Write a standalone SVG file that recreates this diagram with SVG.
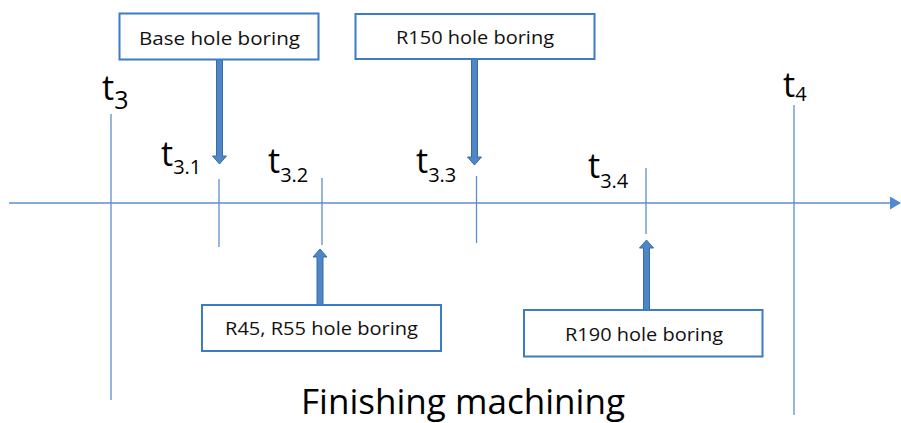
<svg xmlns="http://www.w3.org/2000/svg" width="901" height="423" viewBox="0 0 901 423">
<style>
.box{fill:#fff;stroke:#3b7cc4;stroke-width:2}
.lbl{font-family:"Open Sans","Liberation Sans",sans-serif;font-size:18px;fill:#111}
.tm{font-family:"Open Sans","Liberation Sans",sans-serif;font-size:34px;fill:#000}
.sb{font-size:20px}
.ln{stroke:#5b8fcc;stroke-width:1.3;fill:none}
.arr{fill:#4f86c6;stroke:#3a6aa6;stroke-width:1}
</style>
<defs>
<marker id="ah" markerWidth="11" markerHeight="13" refX="10" refY="6.5" orient="auto" markerUnits="userSpaceOnUse">
<path d="M0,0 L11,6.5 L0,13 Z" fill="#4f8ad0"/>
</marker>
</defs>
<g id="connectors">
<line class="ln" x1="9" y1="203" x2="900" y2="203" stroke-width="1.6" marker-end="url(#ah)"/>
<line class="ln" x1="111" y1="114" x2="111" y2="400"/>
<line class="ln" x1="794" y1="105" x2="794" y2="415"/>
<line class="ln" x1="219" y1="179" x2="219" y2="247"/>
<line class="ln" x1="322" y1="178" x2="322" y2="245"/>
<line class="ln" x1="476.5" y1="176" x2="476.5" y2="243"/>
<line class="ln" x1="646" y1="168" x2="646" y2="234"/>
<path class="arr" d="M216.5,59 L222.5,59 L222.5,156 L226.5,156 L219.5,164 L212.5,156 L216.5,156 Z"/>
<path class="arr" d="M471.5,59 L477.5,59 L477.5,157 L481.5,157 L474.5,165 L467.5,157 L471.5,157 Z"/>
<path class="arr" d="M317,305 L323,305 L323,257 L327,257 L320,249 L313,257 L317,257 Z"/>
<path class="arr" d="M643.5,310 L649.5,310 L649.5,248 L653.5,248 L646.5,240 L639.5,248 L643.5,248 Z"/>
</g>
<g id="node-base">
<rect class="box" x="119.5" y="13.5" width="199" height="46"/>
<text class="lbl" x="219.5" y="45" text-anchor="middle" textLength="161" lengthAdjust="spacingAndGlyphs">Base hole boring</text>
</g>
<g id="node-r150">
<rect class="box" x="355.5" y="14" width="239" height="45"/>
<text class="lbl" x="475" y="44" text-anchor="middle" textLength="158" lengthAdjust="spacingAndGlyphs">R150 hole boring</text>
</g>
<g id="node-r45">
<rect class="box" x="202" y="305" width="239" height="46"/>
<text class="lbl" x="321.5" y="335" text-anchor="middle" textLength="193" lengthAdjust="spacingAndGlyphs">R45, R55 hole boring</text>
</g>
<g id="node-r190">
<rect class="box" x="524" y="310" width="238.5" height="46.5"/>
<text class="lbl" x="644" y="341" text-anchor="middle" textLength="158" lengthAdjust="spacingAndGlyphs">R190 hole boring</text>
</g>
<g id="labels">
<text class="tm" x="102" y="100">t<tspan font-size="25" dy="9">3</tspan></text>
<text class="tm" x="161" y="166">t<tspan class="sb" dy="8">3.1</tspan></text>
<text class="tm" x="268" y="173">t<tspan class="sb" dy="9">3.2</tspan></text>
<text class="tm" x="416" y="173">t<tspan class="sb" dy="9">3.3</tspan></text>
<text class="tm" x="588" y="178">t<tspan class="sb" dy="10">3.4</tspan></text>
<text class="tm" x="783" y="97">t<tspan font-size="20" dy="4">4</tspan></text>
<text class="tm" x="301" y="414" font-size="33" textLength="324" lengthAdjust="spacingAndGlyphs">Finishing machining</text>
</g>
</svg>
